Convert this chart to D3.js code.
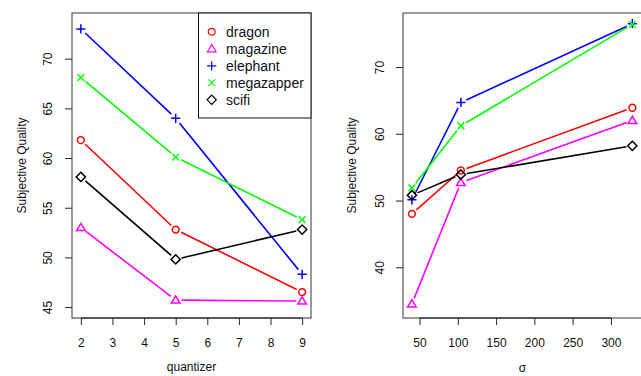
<!DOCTYPE html>
<html>
<head>
<meta charset="utf-8">
<script src="https://cdn.jsdelivr.net/npm/d3@7"></script>
<style>
  body { margin: 0; background: #fff; }
  svg { display: block; font-family: "Liberation Sans", Arial, sans-serif; }
</style>
</head>
<body>
<div id="chart"></div>
<script>
// series names and colours, in legend order
var seriesNames = ["dragon", "magazine", "elephant", "megazapper", "scifi"];
var seriesColors = ["#ff0000", "#ff00ff", "#0000ff", "#00ff00", "#000000"];
var seriesShapes = ["circle", "triangle", "plus", "times", "diamond"];

// left panel: quality vs quantizer
var quantizer = [2, 5, 9];
var qDragon = [61.8, 52.8, 46.5];
var qMagazine = [53.0, 45.7, 45.6];
var qElephant = [73.0, 64.0, 48.3];
var qMegazapper = [68.1, 60.1, 53.8];
var qScifi = [58.1, 49.8, 52.8];
var quantizerTicks = [2, 3, 4, 5, 6, 7, 8, 9];
var qualityTicksLeft = [45, 50, 55, 60, 65, 70];

// right panel: quality vs sigma
var sigma = [40, 104, 328];
var sDragon = [48.0, 54.5, 63.9];
var sMagazine = [34.5, 52.7, 62.0];
var sElephant = [50.1, 64.7, 76.5];
var sMegazapper = [51.9, 61.2, 76.4];
var sScifi = [50.8, 53.9, 58.2];
var sigmaTicks = [50, 100, 150, 200, 250, 300];
var qualityTicksRight = [40, 50, 60, 70];

var width = 641, height = 376;

var svg = d3.select("#chart").append("svg")
    .attr("width", width)
    .attr("height", height);

function symbolPath(shape, x, y) {
    var p = d3.path();
    if (shape == "circle") {
        p.moveTo(x + 3.4, y);
        p.arc(x, y, 3.4, 0, 2 * Math.PI);
    } else if (shape == "triangle") {
        p.moveTo(x, y - 4.2);
        p.lineTo(x + 4.3, y + 3.0);
        p.lineTo(x - 4.3, y + 3.0);
        p.closePath();
    } else if (shape == "plus") {
        p.moveTo(x - 4.6, y); p.lineTo(x + 4.6, y);
        p.moveTo(x, y - 4.6); p.lineTo(x, y + 4.6);
    } else if (shape == "times") {
        p.moveTo(x - 3.4, y - 3.4); p.lineTo(x + 3.4, y + 3.4);
        p.moveTo(x - 3.4, y + 3.4); p.lineTo(x + 3.4, y - 3.4);
    } else {
        p.moveTo(x, y - 4.6);
        p.lineTo(x + 4.6, y);
        p.lineTo(x, y + 4.6);
        p.lineTo(x - 4.6, y);
        p.closePath();
    }
    return p.toString();
}

function drawPanel(opt) {
    var g = svg.append("g");
    var x = d3.scaleLinear().domain(opt.xDomain).range([opt.left, opt.right]);
    var y = d3.scaleLinear().domain(opt.yDomain).range([opt.bottom, opt.top]);

    // x axis
    var xAxis = g.append("g")
        .attr("transform", "translate(0," + opt.bottom + ")")
        .call(d3.axisBottom(x).tickValues(opt.xTicks).tickSize(7).tickPadding(13).tickSizeOuter(0));
    xAxis.select(".domain").attr("d", "M" + x(opt.xTicks[0]) + ",0H" + x(opt.xTicks[opt.xTicks.length - 1]));
    xAxis.selectAll("line").attr("stroke", "#222");
    xAxis.selectAll("text").attr("font-size", 12).attr("fill", "#111")
        .attr("font-family", "Liberation Sans, Arial, sans-serif");

    // y axis with vertical labels
    var yAxis = g.append("g")
        .attr("transform", "translate(" + opt.left + ",0)")
        .call(d3.axisLeft(y).tickValues(opt.yTicks).tickSize(7).tickSizeOuter(0));
    yAxis.select(".domain").remove();
    yAxis.selectAll("line").attr("stroke", "#222");
    yAxis.selectAll("text")
        .attr("font-size", 12).attr("fill", "#111")
        .attr("font-family", "Liberation Sans, Arial, sans-serif")
        .attr("x", null).attr("dy", null)
        .attr("text-anchor", "middle")
        .attr("transform", "translate(" + (opt.yLabelX - opt.left) + ",0) rotate(-90)")
        .attr("dy", "0.35em");

    // box
    g.append("rect")
        .attr("x", opt.left).attr("y", opt.top)
        .attr("width", opt.right - opt.left).attr("height", opt.bottom - opt.top)
        .attr("fill", "none").attr("stroke", "#333").attr("stroke-width", 1);

    // axis titles
    g.append("text")
        .attr("x", (opt.left + opt.right) / 2).attr("y", opt.xTitleY)
        .attr("text-anchor", "middle").attr("font-size", 12).attr("fill", "#111")
        .text(opt.xTitle);
    g.append("text")
        .attr("transform", "translate(" + opt.yTitleX + "," + ((opt.top + opt.bottom) / 2) + ") rotate(-90)")
        .attr("text-anchor", "middle").attr("dy", "0.35em")
        .attr("font-size", 12).attr("fill", "#111")
        .text("Subjective Quality");

    // lines with gaps around the points (type = "b")
    var gap = 6;
    opt.series.forEach(function(vals, i) {
        var pts = vals.map(function(v, j) { return [x(opt.xs[j]), y(v)]; });
        var p = d3.path();
        for (var j = 0; j < pts.length - 1; j++) {
            var dx = pts[j + 1][0] - pts[j][0], dy = pts[j + 1][1] - pts[j][1];
            var len = Math.sqrt(dx * dx + dy * dy);
            if (len <= 2 * gap) continue;
            var ux = dx / len, uy = dy / len;
            p.moveTo(pts[j][0] + ux * gap, pts[j][1] + uy * gap);
            p.lineTo(pts[j + 1][0] - ux * gap, pts[j + 1][1] - uy * gap);
        }
        g.append("path")
            .attr("d", p.toString())
            .attr("fill", "none")
            .attr("stroke", seriesColors[i])
            .attr("stroke-width", 1.6);
        g.selectAll(".pt" + i)
            .data(pts)
            .enter().append("path")
            .attr("class", "pt" + i)
            .attr("d", function(d) { return symbolPath(seriesShapes[i], d[0], d[1]); })
            .attr("fill", "none")
            .attr("stroke", seriesColors[i])
            .attr("stroke-width", 1.5);
    });
    return g;
}

var left = drawPanel({
    left: 72, right: 311, top: 13, bottom: 318,
    xDomain: [1.72, 9.28], yDomain: [43.9, 74.6],
    xTicks: quantizerTicks, yTicks: qualityTicksLeft,
    xs: quantizer,
    series: [qDragon, qMagazine, qElephant, qMegazapper, qScifi],
    xTitle: "quantizer", xTitleY: 371, yLabelX: 48, yTitleX: 22
});

drawPanel({
    left: 403, right: 642, top: 13, bottom: 318,
    xDomain: [28.4, 340.6], yDomain: [32.4, 78.1],
    xTicks: sigmaTicks, yTicks: qualityTicksRight,
    xs: sigma,
    series: [sDragon, sMagazine, sElephant, sMegazapper, sScifi],
    xTitle: "σ", xTitleY: 372, yLabelX: 380, yTitleX: 352
});

// legend on the left panel
var legend = left.append("g");
legend.append("rect")
    .attr("x", 198.5).attr("y", 13)
    .attr("width", 112.5).attr("height", 105)
    .attr("fill", "#fff").attr("stroke", "#111").attr("stroke-width", 1);
seriesNames.forEach(function(name, i) {
    var ly = 31.8 + i * 17;
    legend.append("path")
        .attr("d", symbolPath(seriesShapes[i], 211.7, ly))
        .attr("fill", "none")
        .attr("stroke", seriesColors[i])
        .attr("stroke-width", 1.2);
    legend.append("text")
        .attr("x", 226).attr("y", ly)
        .attr("dy", "0.35em")
        .attr("font-size", 14).attr("fill", "#111")
        .text(name);
});
</script>
</body>
</html>
